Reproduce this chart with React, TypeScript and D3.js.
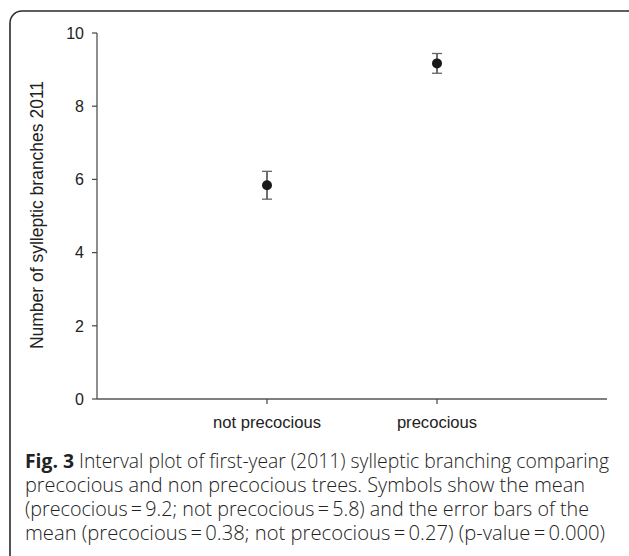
import React from 'react';
import { scaleLinear, scalePoint } from 'd3';

// groups and values
const groups = ['not precocious', 'precocious'];
const means = [5.84, 9.17];
const errors = [0.38, 0.27];
const yTicks = [0, 2, 4, 6, 8, 10];

const yTitle = 'Number of sylleptic branches 2011';
const captionBold = 'Fig. 3';
const captionLines = [
    ' Interval plot of first-year (2011) sylleptic branching comparing',
    'precocious and non precocious trees. Symbols show the mean',
    '(precocious\u2009=\u20099.2; not precocious\u2009=\u20095.8) and the error bars of the',
    'mean (precocious\u2009=\u20090.38; not precocious\u2009=\u20090.27) (p-value\u2009=\u20090.000)'
];
const captionWidths = [584, 560, 564, 580];

const App = () => {
    let width = 629;
    let height = 556;
    let margin = { top: 33, left: 97, right: 22, bottom: 157 };
    let plotW = width - margin.left - margin.right;
    let plotBottom = height - margin.bottom;

    let x = scalePoint<string>().domain(groups).range([margin.left, margin.left + plotW]).padding(1);
    let y = scaleLinear().domain([0, 10]).range([plotBottom, margin.top]);

    let axisFont = '"Liberation Sans", Arial, sans-serif';
    let captionFont = '"Open Sans", "Noto Sans", sans-serif';

    return (
        <svg width={width} height={height} style={{ position: 'absolute', left: 0, top: 0 }}>
            <rect x={0} y={0} width={width} height={height} fill="white" />
            <rect x={10} y={11} width={632} height={560} rx={12} fill="none" stroke="#2a2a2a" strokeWidth={1.6} />

            {/* y axis */}
            <line x1={margin.left} x2={margin.left} y1={y(10)} y2={plotBottom} stroke="#444" strokeWidth={1.2} />
            {yTicks.map((t, i) => (
                <g key={i} transform={`translate(${margin.left},${y(t)})`}>
                    <line x1={-5} x2={0} stroke="#444" strokeWidth={1.2} />
                    <text x={-13} dy="0.36em" textAnchor="end" fontFamily={axisFont} fontSize={16} fill="#222">{t}</text>
                </g>
            ))}
            <text transform={`translate(43,215) rotate(-90)`} textAnchor="middle"
                fontFamily={axisFont} fontSize={17.5} fill="#222">{yTitle}</text>

            {/* x axis */}
            <line x1={margin.left} x2={margin.left + plotW} y1={plotBottom} y2={plotBottom} stroke="#555" strokeWidth={1.4} />
            {groups.map((g, i) => (
                <g key={i} transform={`translate(${x(g)},${plotBottom})`}>
                    <line y1={0} y2={5} stroke="#444" strokeWidth={1.2} />
                    <text y={29} textAnchor="middle" fontFamily={axisFont} fontSize={16.6} fill="#222">{g}</text>
                </g>
            ))}

            {/* interval marks */}
            {groups.map((g, i) => {
                let cx = x(g) as number;
                let top = y(means[i] + errors[i]);
                let bot = y(means[i] - errors[i]);
                return (
                    <g key={i}>
                        <line x1={cx} x2={cx} y1={top} y2={bot} stroke="#222" strokeWidth={1.3} />
                        <line x1={cx - 5} x2={cx + 5} y1={top} y2={top} stroke="#666" strokeWidth={1.3} />
                        <line x1={cx - 5} x2={cx + 5} y1={bot} y2={bot} stroke="#666" strokeWidth={1.3} />
                        <circle cx={cx} cy={y(means[i])} r={5} fill="#1a1a1a" />
                    </g>
                );
            })}

            {/* caption */}
            {captionLines.map((l, i) => (
                <text key={i} x={25} y={468 + i * 24} fontFamily={captionFont} fontWeight={300} fontSize={19.5} fill="#222"
                    textLength={captionWidths[i]} lengthAdjust="spacingAndGlyphs">
                    {i == 0 ? <tspan fontWeight={700}>{captionBold}</tspan> : null}
                    {l}
                </text>
            ))}
        </svg>
    );
};

export default App;
